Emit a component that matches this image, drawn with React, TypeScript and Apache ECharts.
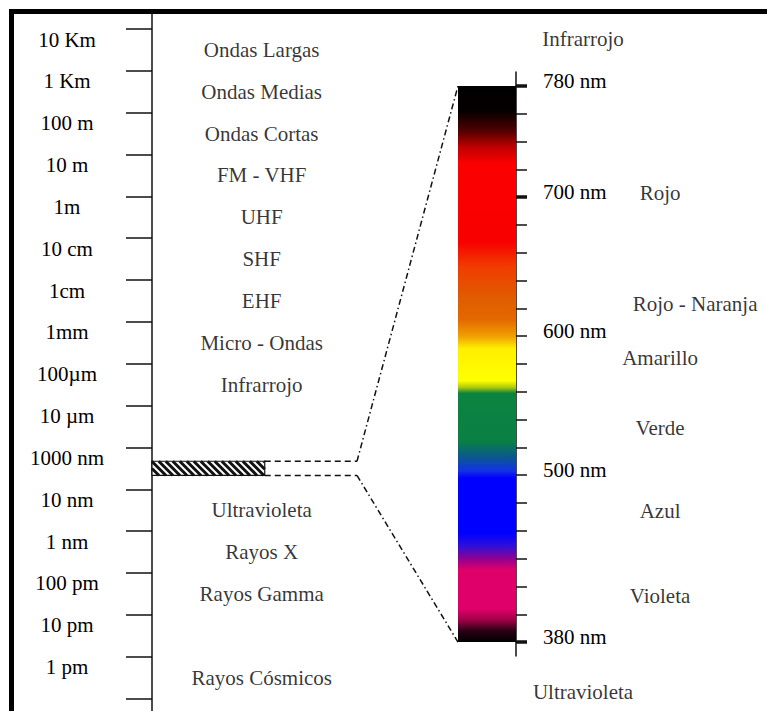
import React, { useEffect, useRef } from 'react';
import * as echarts from 'echarts';

// ---- data ----
const wavelengthLabels = ['10 Km', '1 Km', '100 m', '10 m', '1m', '10 cm', '1cm', '1mm', '100µm', '10 µm', '1000 nm', '10 nm', '1 nm', '100 pm', '10 pm', '1 pm'];
const leftTicks = [0, 1, 2, 3, 4, 5, 6, 7, 8, 9, 10, 11, 12, 13, 14, 15, 16];
const bandNames = ['Ondas Largas', 'Ondas Medias', 'Ondas Cortas', 'FM - VHF', 'UHF', 'SHF', 'EHF', 'Micro - Ondas', 'Infrarrojo', 'Ultravioleta', 'Rayos X', 'Rayos Gamma', 'Rayos Cósmicos'];
const bandIndex = [0, 1, 2, 3, 4, 5, 6, 7, 8, 11, 12, 13, 15];
const visibleBand = [10.33, 10.67];
const visibleBarEnd = 0.55;

const nmTicks = [380, 400, 420, 440, 460, 480, 500, 520, 540, 560, 580, 600, 620, 640, 660, 680, 700, 720, 740, 760, 780];
const nmLabels = [380, 500, 600, 700, 780];
const nmMajor = [380, 700, 780];

const spectrumNm = [780, 762, 748, 736, 724, 668, 650, 628, 612, 600, 591, 568, 563, 559, 525, 514, 503, 498, 458, 449, 440, 432, 404, 396, 388, 380];
const spectrumColors = ['#000000', '#050000', '#500000', '#c00000', '#fc0000', '#f80000', '#f03c00', '#e05c00', '#e46800', '#f0a000', '#fff000', '#ffff00', '#a8c810', '#0c8440', '#0a8044', '#0a5c88', '#1430e8', '#0000ff', '#0000ff', '#3010d8', '#900090', '#e0006a', '#e0006a', '#a00048', '#280014', '#000000'];

const colorNames = ['Rojo', 'Rojo - Naranja', 'Amarillo', 'Verde', 'Azul', 'Violeta'];
const colorNm = [703, 623, 584, 534, 474, 413];
const boundNames = ['Infrarrojo', 'Ultravioleta'];
const boundNm = [814, 344];

// ---- layout / style ----
const FONT = "'Liberation Serif', 'Times New Roman', serif";
const INK = '#000';
const FS = 21;
const A_TOP = 14, A_UNIT = 41.875, A_MIN = -0.36, A_MAX = 16.3;
const B_TOP = 72, B_H = 584, B_MIN = 370, B_MAX = 790;
const PX_NM = B_H / (B_MAX - B_MIN);
const C_MIN = 330, C_MAX = 830;
const C_TOP = B_TOP - (C_MAX - B_MAX) * PX_NM;
const C_H = (C_MAX - C_MIN) * PX_NM;

const labelStyle = { fontFamily: FONT, fontSize: FS, color: INK };

function buildOption() {
  const nmMax = spectrumNm[0];
  const nmMin = spectrumNm[spectrumNm.length - 1];
  const stops = spectrumNm.map((nm, i) => ({ offset: (nmMax - nm) / (nmMax - nmMin), color: spectrumColors[i] }));

  return {
    animation: false,
    backgroundColor: '#ffffff',
    textStyle: { fontFamily: FONT },
    grid: [
      { left: 152, top: A_TOP, width: 205, height: (A_MAX - A_MIN) * A_UNIT },
      { left: 458, top: B_TOP, width: 58, height: B_H },
      { left: 516, top: C_TOP, width: 251, height: C_H },
    ],
    xAxis: [
      { gridIndex: 0, type: 'value', min: 0, max: 1, show: false },
      { gridIndex: 1, type: 'value', min: 0, max: 1, show: false },
      { gridIndex: 2, type: 'value', min: 0, max: 1, show: false },
    ],
    yAxis: [
      {
        gridIndex: 0, type: 'value', inverse: true, min: A_MIN, max: A_MAX, position: 'left',
        axisLine: { show: true, onZero: false, lineStyle: { color: '#111', width: 1.5 } },
        axisTick: { show: true, length: 26, customValues: leftTicks, lineStyle: { color: '#111', width: 1.5 } },
        axisLabel: {
          customValues: leftTicks.slice(0, wavelengthLabels.length),
          formatter: (v: number) => wavelengthLabels[Math.round(v)] ?? '',
          align: 'center', verticalAlign: 'top', margin: 85, ...labelStyle,
        },
        splitLine: { show: false },
      },
      {
        gridIndex: 1, type: 'value', min: B_MIN, max: B_MAX, position: 'right',
        axisLine: { show: true, onZero: false, lineStyle: { color: '#111', width: 1.5 } },
        axisTick: { show: true, length: 11, customValues: nmTicks, lineStyle: { color: '#111', width: 1.5 } },
        axisLabel: {
          customValues: nmLabels, formatter: (v: number) => `${v} nm`,
          margin: 27, align: 'left', verticalAlign: 'bottom', lineHeight: 10, ...labelStyle,
        },
        splitLine: { show: false },
      },
      {
        gridIndex: 1, type: 'value', min: B_MIN, max: B_MAX, position: 'right',
        axisLine: { show: false, onZero: false },
        axisTick: { show: true, length: 11, customValues: nmMajor, lineStyle: { color: '#111', width: 3.5 } },
        axisLabel: { show: false },
        splitLine: { show: false },
      },
      { gridIndex: 2, type: 'value', min: C_MIN, max: C_MAX, show: false },
    ],
    series: [
      {
        type: 'custom', xAxisIndex: 0, yAxisIndex: 0, silent: true,
        data: [[0, visibleBarEnd, visibleBand[0], visibleBand[1]]],
        renderItem: (params: any, api: any) => {
          const p0 = api.coord([api.value(0), api.value(2)]);
          const p1 = api.coord([api.value(1), api.value(3)]);
          const left = p0[0], right = p1[0], top = p0[1], bottom = p1[1];
          const h = bottom - top;
          const children: any[] = [
            { type: 'rect', shape: { x: left, y: top, width: right - left, height: h }, style: { fill: '#fff', stroke: 'none' } },
          ];
          const period = 7;
          for (let xs = left - h; xs < right; xs += period) {
            const t0 = Math.max(0, left - xs);
            const t1 = Math.min(h, right - xs);
            if (t1 <= t0) continue;
            children.push({
              type: 'line',
              shape: { x1: xs + t0, y1: top + t0, x2: xs + t1, y2: top + t1 },
              style: { stroke: '#111', lineWidth: 3 },
            });
          }
          children.push({ type: 'rect', shape: { x: left, y: top, width: right - left, height: h }, style: { fill: 'none', stroke: '#111', lineWidth: 1.2 } });
          return { type: 'group', children };
        },
      },
      {
        type: 'line', xAxisIndex: 0, yAxisIndex: 0, silent: true, symbol: 'none',
        data: [[visibleBarEnd, visibleBand[0]], [1, visibleBand[0]]],
        lineStyle: { color: '#111', width: 1.4, type: [6, 4] },
      },
      {
        type: 'line', xAxisIndex: 0, yAxisIndex: 0, silent: true, symbol: 'none',
        data: [[visibleBarEnd, visibleBand[1]], [1, visibleBand[1]]],
        lineStyle: { color: '#111', width: 1.4, type: [6, 4] },
      },
      {
        type: 'scatter', xAxisIndex: 0, yAxisIndex: 0, silent: true, symbolSize: 1,
        itemStyle: { color: 'rgba(0,0,0,0)' },
        data: bandNames.map((n, i) => ({ name: n, value: [0.535, bandIndex[i] + 0.5] })),
        label: { show: true, position: 'inside', formatter: '{b}', ...labelStyle },
      },
      {
        type: 'custom', xAxisIndex: 1, yAxisIndex: 1, silent: true,
        data: [[0, 1, nmMax, nmMin]],
        renderItem: (params: any, api: any) => {
          const p0 = api.coord([api.value(0), api.value(2)]);
          const p1 = api.coord([api.value(1), api.value(3)]);
          return {
            type: 'rect',
            shape: { x: p0[0], y: p0[1], width: p1[0] - p0[0], height: p1[1] - p0[1] },
            style: { fill: new echarts.graphic.LinearGradient(0, 0, 0, 1, stops) },
          };
        },
      },
      {
        type: 'scatter', xAxisIndex: 2, yAxisIndex: 3, silent: true, symbolSize: 1,
        itemStyle: { color: 'rgba(0,0,0,0)' },
        data: colorNames.map((n, i) => ({
          name: n, value: [0.574, colorNm[i]],
          label: n === 'Rojo - Naranja' ? { offset: [35, 0] } : undefined,
        })),
        label: { show: true, position: 'inside', formatter: '{b}', ...labelStyle },
      },
      {
        type: 'scatter', xAxisIndex: 2, yAxisIndex: 3, silent: true, symbolSize: 1,
        itemStyle: { color: 'rgba(0,0,0,0)' },
        data: boundNames.map((n, i) => ({ name: n, value: [0.267, boundNm[i]] })),
        label: { show: true, position: 'inside', formatter: '{b}', ...labelStyle },
      },
    ],
  };
}

export default function App() {
  const ref = useRef<HTMLDivElement>(null);
  useEffect(() => {
    if (!ref.current) return;
    const chart = echarts.init(ref.current, undefined, { renderer: 'svg' });
    chart.setOption(buildOption() as any);

    const nmMax = spectrumNm[0];
    const nmMin = spectrumNm[spectrumNm.length - 1];
    const a0 = chart.convertToPixel({ seriesIndex: 1 } as any, [1, visibleBand[0]]) as number[];
    const a1 = chart.convertToPixel({ seriesIndex: 2 } as any, [1, visibleBand[1]]) as number[];
    const b0 = chart.convertToPixel({ seriesIndex: 4 } as any, [0, nmMax]) as number[];
    const b1 = chart.convertToPixel({ seriesIndex: 4 } as any, [0, nmMin]) as number[];
    const dashDot = { stroke: '#111', lineWidth: 1.5, lineDash: [6, 3, 1.5, 3], fill: 'none' };
    chart.setOption({
      graphic: [
        { type: 'polyline', silent: true, shape: { points: [a0, b0] }, style: dashDot },
        { type: 'polyline', silent: true, shape: { points: [a1, b1] }, style: dashDot },
        { type: 'rect', silent: true, shape: { x: 9, y: 9, width: 758, height: 5 }, style: { fill: '#000' } },
        { type: 'rect', silent: true, shape: { x: 9, y: 9, width: 5, height: 702 }, style: { fill: '#000' } },
      ],
    });
    return () => chart.dispose();
  }, []);
  return <div ref={ref} style={{ position: 'absolute', left: 0, top: 0, width: 767, height: 711 }} />;
}
